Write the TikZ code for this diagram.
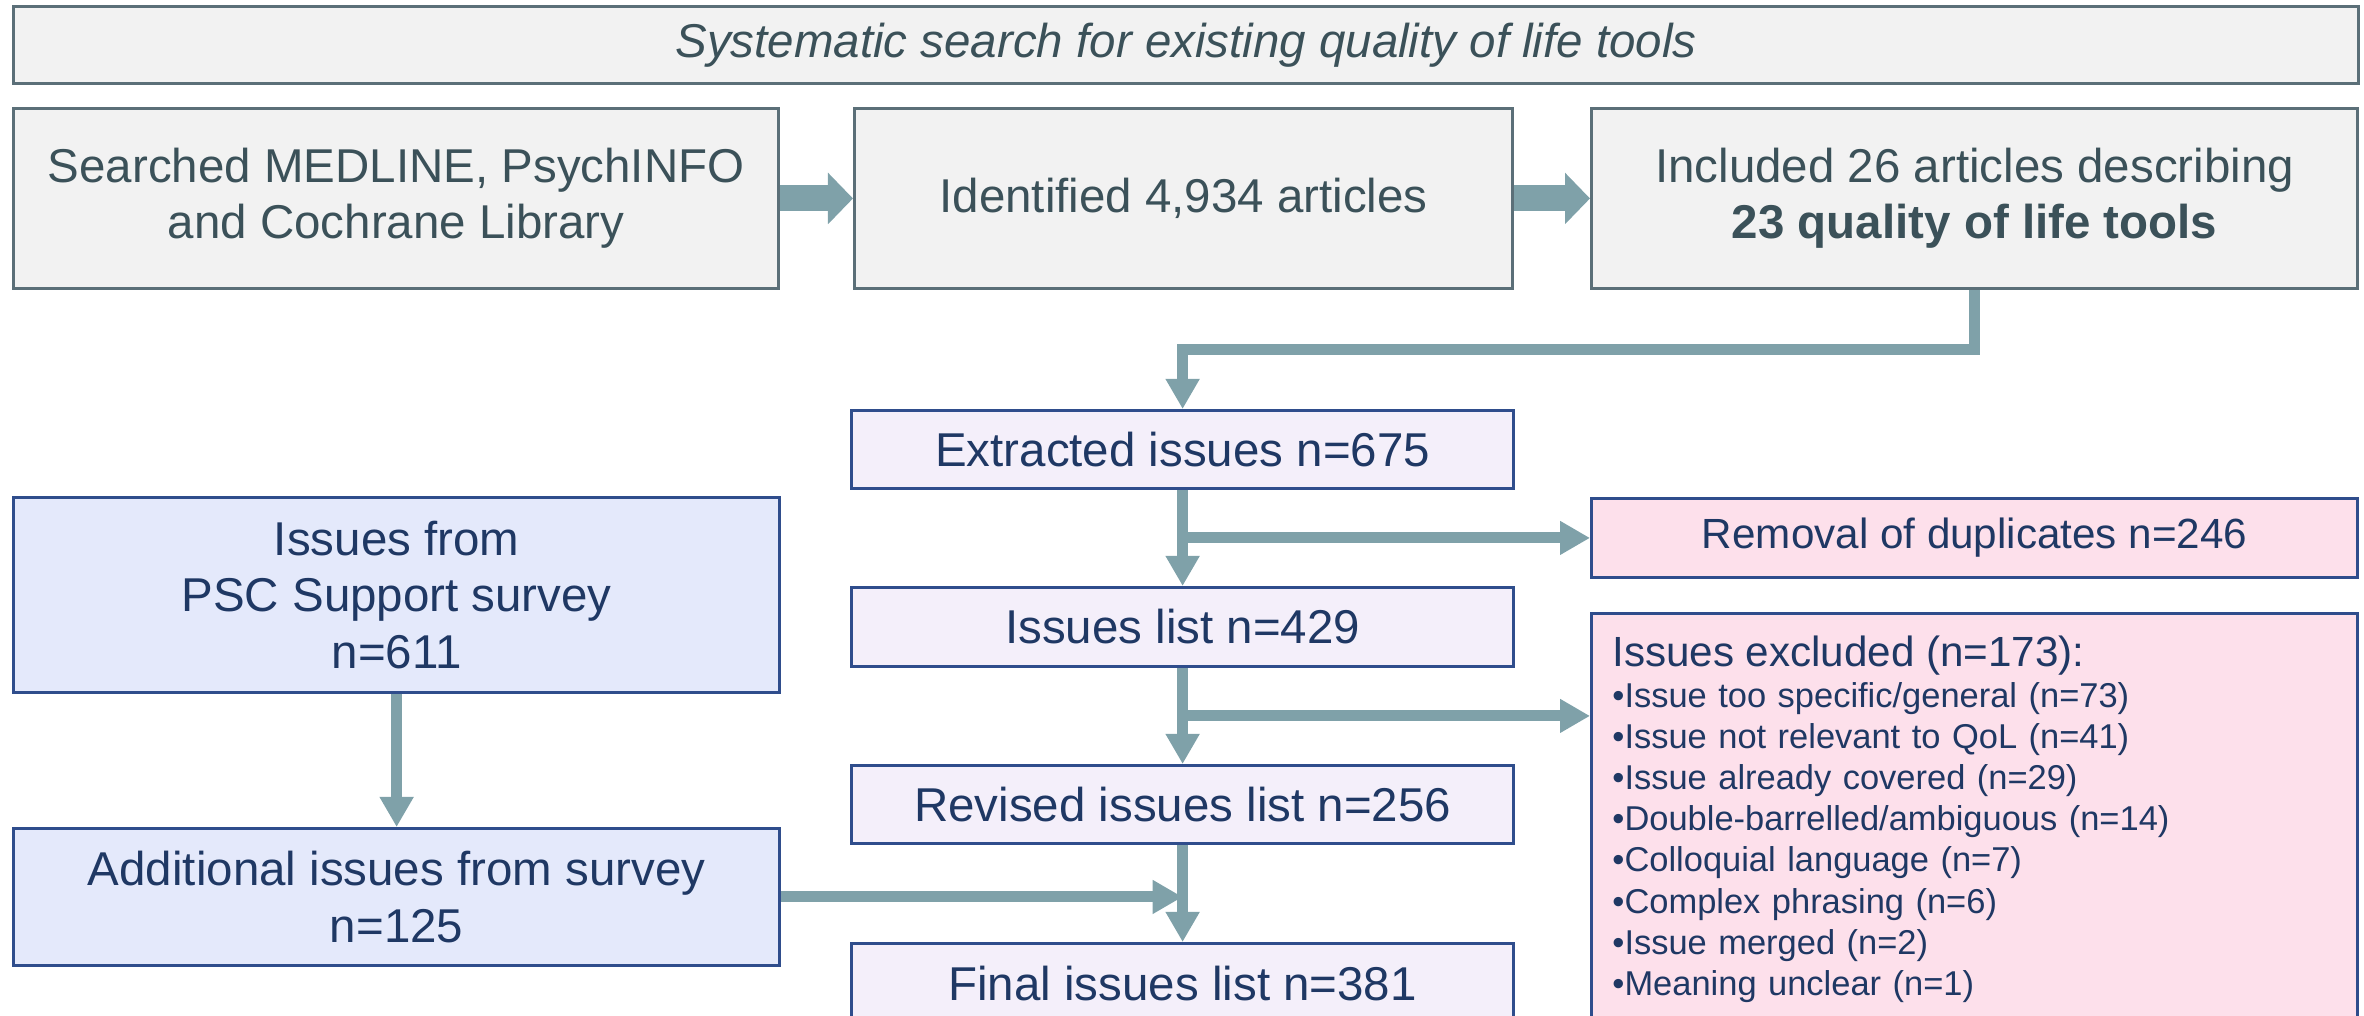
\documentclass[tikz,border=0pt]{standalone}
\usepackage{fontspec}
\setmainfont{Liberation Sans}
\usetikzlibrary{arrows.meta,calc}
\definecolor{greyfill}{HTML}{F2F2F2}
\definecolor{greyline}{HTML}{5B6F78}
\definecolor{greytext}{HTML}{3B5159}
\definecolor{flowteal}{HTML}{7FA1A9}
\definecolor{lilacfill}{HTML}{F4EFFA}
\definecolor{pinkfill}{HTML}{FDE0EB}
\definecolor{bluefill}{HTML}{E4E9FB}
\definecolor{navyline}{HTML}{2F4D8C}
\definecolor{navytext}{HTML}{1F3864}

\begin{document}
\begin{tikzpicture}[x=0.01cm, y=-0.01cm,
    greybox/.style={draw=greyline, fill=greyfill, text=greytext, line width=0.8pt, inner sep=0pt,
        anchor=north west, align=center, font=\fontsize{13.5}{16}\selectfont},
    lilacbox/.style={greybox, draw=navyline, fill=lilacfill, text=navytext},
    pinkbox/.style={lilacbox, fill=pinkfill},
    bluebox/.style={lilacbox, fill=bluefill},
    flow/.style={draw=flowteal, line width=0.11cm, -{Triangle[width=0.32cm,length=0.3cm]}},
    bigflow/.style={flow, line width=0.26cm, -{Triangle[width=0.5cm,length=0.25cm]}}]
        \useasboundingbox (0,0) rectangle (2364,1015);
        % search row
        \node[greybox, minimum width=23.44cm, minimum height=0.77cm] (banner) at (12,5) {\itshape Systematic search for existing quality of life tools};
        \node[greybox, minimum width=7.65cm, minimum height=1.8cm] (search) at (12,107) {Searched MEDLINE, PsychINFO\\and Cochrane Library};
        \node[greybox, minimum width=6.58cm, minimum height=1.8cm] (ident) at (853,107) {Identified 4,934 articles};
        \node[greybox, minimum width=7.66cm, minimum height=1.8cm] (incl) at (1590,107) {Included 26 articles describing\\\textbf{23 quality of life tools}};
        % issues column
        \node[lilacbox, minimum width=6.62cm, minimum height=0.78cm] (extr) at (850,409) {Extracted issues n=675};
        \node[lilacbox, minimum width=6.62cm, minimum height=0.79cm] (ilist) at (850,586) {Issues list n=429};
        \node[lilacbox, minimum width=6.62cm, minimum height=0.78cm] (rev) at (850,764) {Revised issues list n=256};
        \node[lilacbox, minimum width=6.62cm, minimum height=0.8cm] (final) at (850,942) {Final issues list n=381};
        % removed issues
        \node[pinkbox, minimum width=7.66cm, minimum height=0.79cm, font=\fontsize{12}{14}\selectfont] (remov) at (1590,497) {Removal of duplicates n=246};
        \node[pinkbox, minimum width=7.66cm, text width=7.24cm, inner xsep=0.21cm, inner ysep=6.3pt, align=left,
            font=\fontsize{9.8}{11.7}\selectfont] (excl) at (1590,612)
            {{\fontsize{12}{11.7}\selectfont Issues excluded (n=173):}\\
            •Issue too specific/general (n=73)\\
            •Issue not relevant to QoL (n=41)\\
            •Issue already covered (n=29)\\
            •Double-barrelled/ambiguous (n=14)\\
            •Colloquial language (n=7)\\
            •Complex phrasing (n=6)\\
            •Issue merged (n=2)\\
            •Meaning unclear (n=1)};
        % survey
        \node[bluebox, minimum width=7.66cm, minimum height=1.95cm] (from) at (12,496) {Issues from\\PSC Support survey\\n=611};
        \node[bluebox, minimum width=7.66cm, minimum height=1.37cm] (addl) at (12,827) {Additional issues from survey\\n=125};
        % arrows
        \coordinate (m1) at ($(extr.south)!0.5!(ilist.north)$);
        \coordinate (m2) at ($(ilist.south)!0.5!(rev.north)$);
        \draw[bigflow] (search) -- (ident);
        \draw[bigflow] (ident) -- (incl);
        \draw[flow] (incl.south) -- ++(0,60) -| (extr.north);
        \draw[flow] (extr) -- (ilist);
        \draw[flow] (m1) -- (m1 -| remov.west);
        \draw[flow] (ilist) -- (rev);
        \draw[flow] (m2) -- (m2 -| excl.west);
        \draw[flow] (rev) -- (final);
        \draw[flow] (from) -- (addl);
        \draw[flow] (addl.east) -- (addl.east -| final.north);
\end{tikzpicture}
\end{document}
